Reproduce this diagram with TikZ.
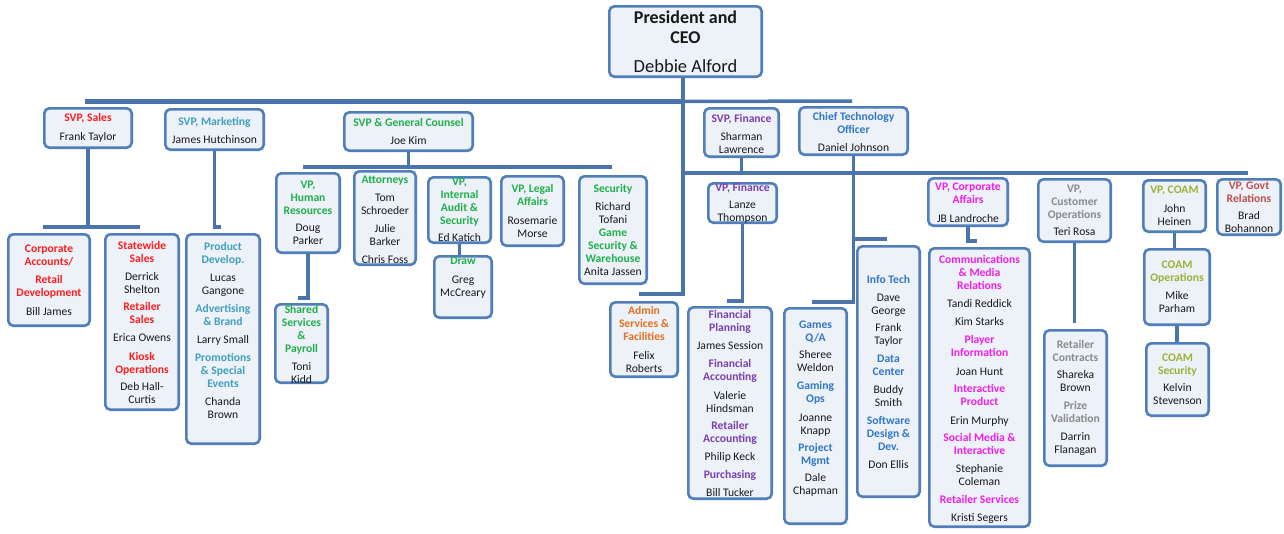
\documentclass[tikz,border=0pt]{standalone}
\usepackage{fontspec}
\setmainfont{Carlito}
\definecolor{bord}{HTML}{4F7EBA}
\definecolor{connc}{HTML}{4A74AB}
\definecolor{boxf}{HTML}{EDF1F8}
\definecolor{cred}{HTML}{FF1E1E}
\definecolor{cteal}{HTML}{41A0BE}
\definecolor{cgreen}{HTML}{1FB04C}
\definecolor{corange}{HTML}{E8701E}
\definecolor{cpurple}{HTML}{7B3FAF}
\definecolor{cblue}{HTML}{2F78C8}
\definecolor{cmag}{HTML}{F020E8}
\definecolor{cgrey}{HTML}{8A8A8A}
\definecolor{colive}{HTML}{9DB135}
\definecolor{cdred}{HTML}{C0504D}
\tikzset{
  box/.style={draw=bord, line width=2.6pt, rounded corners=5pt, fill=boxf, inner sep=0pt},
  conn/.style={draw=connc, line width=3.5pt},
  txt/.style={align=center, inner sep=0pt, font=\fontsize{11.6}{13}\selectfont, text=black!90},
  tc/.code={\gdef\tcol{#1}}
}
\gdef\tcol{black}
\newcommand{\T}[1]{\textcolor{\tcol}{\bfseries #1}}
\newcommand{\bx}[5]{\node[box, minimum width={#4-#2-2.6}, minimum height={#5-#3-2.6}] (#1) at ({(#2+#4)/2},{(#3+#5)/2}) {};}
\begin{document}
\begin{tikzpicture}[x=1pt,y=-1pt]
\useasboundingbox (0,0) rectangle (1284,533);
\fill[white] (0,0) rectangle (1284,533);
% boxes
\bx{ceo}{608}{5}{763}{78}
\bx{sales}{43}{107}{133}{149}
\bx{mkt}{164}{108}{265}{151}
\bx{gc}{343}{111}{474}{152}
\bx{sfin}{703}{107}{780}{158}
\bx{cto}{798}{106}{909}{156}
\bx{corp}{7}{233}{91}{327}
\bx{state}{104}{233}{180}{411}
\bx{prod}{185}{233}{261}{445}
\bx{hr}{275}{172}{341}{254}
\bx{att}{353}{170}{417}{266}
\bx{aud}{427}{176}{492}{244}
\bx{legal}{500}{175}{565}{247}
\bx{sec}{578}{175}{648}{285}
\bx{draw}{433}{255}{493}{319}
\bx{shared}{274}{303}{329}{384}
\bx{admin}{609}{301}{679}{378}
\bx{vpfin}{707}{182}{778}{224}
\bx{finp}{687}{306}{773}{500}
\bx{games}{783}{307}{848}{525}
\bx{it}{856}{245}{921}{498}
\bx{vpca}{927}{177}{1009}{227}
\bx{comm}{928}{247}{1031}{528}
\bx{vpco}{1037}{178}{1112}{243}
\bx{retc}{1043}{329}{1108}{467}
\bx{vpcoam}{1142}{179}{1207}{233}
\bx{coamop}{1143}{248}{1211}{326}
\bx{coamsec}{1145}{342}{1210}{417}
\bx{vpgov}{1216}{178}{1282}{236}
% junction coordinates
\coordinate (tbL) at (85,101.5);
\coordinate (tbM) at (683,101.5);
\coordinate (tbR) at (852,101);
\coordinate (admj) at (683,294);
\coordinate (adm) at (639,294);
\coordinate (b2L) at (683,173);
\coordinate (b2R) at (1248,173);
\coordinate (sbL) at (43,227);
\coordinate (sbR) at (140,227);
\coordinate (mkj) at (221,227);
\coordinate (gbL) at (303,167);
\coordinate (gbR) at (612,167);
\coordinate (hrj) at (298,298);
\coordinate (vfj) at (727,301);
\coordinate (ctj) at (812,302);
\coordinate (itj) at (887,239);
\coordinate (caj) at (977,241);
\coordinate (coj) at (1074.5,323);
% connectors
\draw[conn] (tbM) -- (tbR);
\draw[conn, line width=4.2pt] (tbL) -- (tbM);
\draw[conn] (ceo.south -| tbM) -- (admj) -- (adm);
\draw[conn] (b2L) -- (b2R);
\draw[conn] (sales.south) -- (sales.south |- sbL);
\draw[conn] (sbL) -- (sbR);
\draw[conn] (mkt.south) |- (mkj);
\draw[conn] (gc.south) -- (gc.south |- gbL);
\draw[conn] (gbL) -- (gbR);
\draw[conn] (hr.south) |- (hrj);
\draw[conn] (aud.south) -- (aud.south |- draw.north);
\draw[conn] (sfin.south) -- (sfin.south |- b2L);
\draw[conn] (vpfin.south) |- (vfj);
\draw[conn] (cto.south) |- (ctj);
\draw[conn] (cto.south |- itj) -- (itj);
\draw[conn] (vpca.south) |- (caj);
\draw[conn] (vpco.south) -- (coj);
\draw[conn] (vpcoam.south) -- (vpcoam.south |- coamop.north);
\draw[conn] (coamop.south) -- (coamop.south |- coamsec.north);
% texts
\node[txt, font=\fontsize{18}{20}\selectfont] (ceo-t) at (685.5,41.5) {\textbf{President and}\\\textbf{CEO}\\[9pt]{\fontsize{18.5}{20}\selectfont Debbie Alford}};
\node[txt, tc=cred] (sales-t) at (88,127.5) {\T{SVP, Sales}\\[6pt]Frank Taylor};
\node[txt, tc=cteal] (mkt-t) at (214.5,130) {\T{SVP, Marketing}\\[5pt]James Hutchinson};
\node[txt, tc=cgreen] (gc-t) at (408.5,131) {\T{SVP \& General Counsel}\\[5pt]Joe Kim};
\node[txt, tc=cpurple] (sfin-t) at (741.5,133.5) {\T{SVP, Finance}\\[5pt]Sharman\\Lawrence};
\node[txt, tc=cblue] (cto-t) at (853.5,131.5) {\T{Chief Technology}\\\T{Officer}\\[5pt]Daniel Johnson};
\node[txt, tc=cred] (corp-t) at (49,280) {\T{Corporate}\\\T{Accounts/}\\[5pt]\T{Retail}\\\T{Development}\\[6pt]Bill James};
\node[txt, tc=cred] (state-t) at (142,322) {\T{Statewide}\\\T{Sales}\\[5pt]Derrick\\Shelton\\[4pt]\T{Retailer}\\\T{Sales}\\[5pt]Erica Owens\\[6pt]\T{Kiosk}\\\T{Operations}\\[4pt]Deb Hall-\\Curtis};
\node[txt, tc=cteal] (prod-t) at (223,330) {\T{Product}\\\T{Develop.}\\[5pt]Lucas\\Gangone\\[5pt]\T{Advertising}\\\T{\& Brand}\\[5pt]Larry Small\\[5pt]\T{Promotions}\\\T{\& Special}\\\T{Events}\\[5pt]Chanda\\Brown};
\node[txt, tc=cgreen] (hr-t) at (308,212.5) {\T{VP,}\\\T{Human}\\\T{Resources}\\[4pt]Doug\\Parker};
\node[txt, tc=cgreen] (att-t) at (385,219.5) {\T{Attorneys}\\[5pt]Tom\\Schroeder\\[5pt]Julie\\Barker\\[5pt]Chris Foss};
\node[txt, tc=cgreen] (aud-t) at (459.5,209.5) {\T{VP,}\\\T{Internal}\\\T{Audit \&}\\\T{Security}\\[4pt]Ed Katich};
\node[txt, tc=cgreen] (legal-t) at (532.5,211) {\T{VP, Legal}\\\T{Affairs}\\[6pt]Rosemarie\\Morse};
\node[txt, tc=cgreen] (sec-t) at (613,230) {\T{Security}\\[5pt]Richard\\Tofani\\\T{Game}\\\T{Security \&}\\\T{Warehouse}\\Anita Jassen};
\node[txt, tc=cgreen] (draw-t) at (463,278) {\T{Draw}\\[6pt]Greg\\McCreary};
\node[txt, tc=cgreen] (shared-t) at (301.5,344) {\T{Shared}\\\T{Services}\\\T{\&}\\\T{Payroll}\\[5pt]Toni\\Kidd};
\node[txt, tc=corange] (admin-t) at (644,339.5) {\T{Admin}\\\T{Services \&}\\\T{Facilities}\\[6pt]Felix\\Roberts};
\node[txt, tc=cpurple] (vpfin-t) at (742.5,203) {\T{VP, Finance}\\[4pt]Lanze\\Thompson};
\node[txt, tc=cpurple] (finp-t) at (730,403.5) {\T{Financial}\\\T{Planning}\\[5pt]James Session\\[5pt]\T{Financial}\\\T{Accounting}\\[6pt]Valerie\\Hindsman\\[4pt]\T{Retailer}\\\T{Accounting}\\[5pt]Philip Keck\\[5pt]\T{Purchasing}\\[5pt]Bill Tucker};
\node[txt, tc=cblue] (games-t) at (815.5,408.5) {\T{Games}\\\T{Q/A}\\[4pt]Sheree\\Weldon\\[5pt]\T{Gaming}\\\T{Ops}\\[6pt]Joanne\\Knapp\\[4pt]\T{Project}\\\T{Mgmt}\\[4pt]Dale\\Chapman};
\node[txt, tc=cblue] (it-t) at (888.5,372) {\T{Info Tech}\\[5pt]Dave\\George\\[4pt]Frank\\Taylor\\[5pt]\T{Data}\\\T{Center}\\[5pt]Buddy\\Smith\\[5pt]\T{Software}\\\T{Design \&}\\\T{Dev.}\\[5pt]Don Ellis};
\node[txt, tc=cmag] (vpca-t) at (968,202.5) {\T{VP, Corporate}\\\T{Affairs}\\[6pt]JB Landroche};
\node[txt, tc=cmag] (comm-t) at (979.5,389) {\T{Communications}\\\T{\& Media}\\\T{Relations}\\[5pt]Tandi Reddick\\[5pt]Kim Starks\\[5pt]\T{Player}\\\T{Information}\\[6pt]Joan Hunt\\[4pt]\T{Interactive}\\\T{Product}\\[6pt]Erin Murphy\\[4pt]\T{Social Media \&}\\\T{Interactive}\\[5pt]Stephanie\\Coleman\\[5pt]\T{Retailer Services}\\[5pt]Kristi Segers};
\node[txt, tc=cgrey] (vpco-t) at (1074.5,210) {\T{VP,}\\\T{Customer}\\\T{Operations}\\[4pt]Teri Rosa};
\node[txt, tc=cgrey] (retc-t) at (1075.5,398) {\T{Retailer}\\\T{Contracts}\\[4pt]Shareka\\Brown\\[5pt]\T{Prize}\\\T{Validation}\\[5pt]Darrin\\Flanagan};
\node[txt, tc=colive] (vpcoam-t) at (1174.5,206) {\T{VP, COAM}\\[6pt]John\\Heinen};
\node[txt, tc=colive] (coamop-t) at (1177,287) {\T{COAM}\\\T{Operations}\\[5pt]Mike\\Parham};
\node[txt, tc=colive] (coamsec-t) at (1177.5,379) {\T{COAM}\\\T{Security}\\[4pt]Kelvin\\Stevenson};
\node[txt, tc=cdred] (vpgov-t) at (1249,207.5) {\T{VP, Govt}\\\T{Relations}\\[4pt]Brad\\Bohannon};
\end{tikzpicture}
\end{document}
